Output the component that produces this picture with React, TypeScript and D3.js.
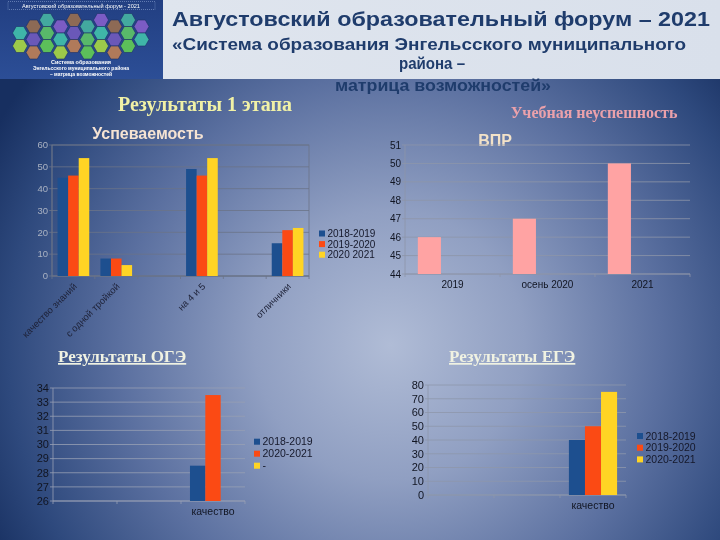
import React from 'react';
import * as d3 from 'd3';

// ---------- DATA ----------
const usCategories = ['качество знаний', 'с одной тройкой', '', 'на 4 и 5', '', 'отличники'];
const usSeries = ['2018-2019', '2019-2020', '2020 2021'];
const us2018 = [45, 8, null, 49, null, 15];
const us2019 = [46, 8, null, 46, null, 21];
const us2020 = [54, 5, null, 54, null, 22];
const usTicks = [0, 10, 20, 30, 40, 50, 60];

const vprCategories = ['2019', 'осень 2020', '2021'];
const vprSeries = ['ВПР', '', ''];
const vprValues = [46, 47, 50];
const vprEmpty = [null, null, null];
const vprTicks = [44, 45, 46, 47, 48, 49, 50, 51];

const ogeCategories = ['', '', 'качество'];
const ogeSeries = ['2018-2019', '2020-2021', '-'];
const oge2018 = [null, null, 28.5];
const oge2020 = [null, null, 33.5];
const ogeDash = [null, null, null];
const ogeTicks = [26, 27, 28, 29, 30, 31, 32, 33, 34];

const egeCategories = ['', '', 'качество'];
const egeSeries = ['2018-2019', '2019-2020', '2020-2021'];
const ege2018 = [null, null, 40];
const ege2019 = [null, null, 50];
const ege2020 = [null, null, 75];
const egeTicks = [0, 10, 20, 30, 40, 50, 60, 70, 80];

const hexColors = ['#7b5cc4', '#5cbf5a', '#3fb5a8', '#8d6a55', '#9cc94a', '#6a58b8', '#43a99f', '#b07a5a', '#58b86a'];

const BLUE = '#1d4f8f';
const RED = '#fb4a14';
const YELLOW = '#ffd424';
const PINK = '#ffa3a3';

const SANS = '"Liberation Sans", Arial, sans-serif';
const SERIF = '"Liberation Serif", "Times New Roman", serif';

type ChartProps = {
  categories: string[];
  series: string[];
  values: (number | null)[][];
  colors: string[];
  domain: [number, number];
  ticks: number[];
  x0: number; x1: number; y0: number; y1: number;
  groupFrac: number;
  gridColor: string;
  tickColor: string;
  tickSize: number;
  labelColor: string;
  labelSize: number;
  rotate?: boolean;
  frame?: boolean;
  legend?: { x: number; y: number; dy: number; size: number; font: number };
};

function BarChart(p: ChartProps) {
  const x = d3.scaleBand<number>().domain(p.categories.map((_, i) => i)).range([p.x0, p.x1]).padding(0);
  const y = d3.scaleLinear().domain(p.domain).range([p.y1, p.y0]);
  const bw = x.bandwidth();
  const gw = bw * p.groupFrac;
  const sub = d3.scaleBand<number>().domain(p.series.map((_, i) => i)).range([(bw - gw) / 2, (bw + gw) / 2]).padding(0);
  const boundaries = d3.range(p.categories.length + 1).map(i => p.x0 + i * bw);
  return (
    <g>
      {p.ticks.map(t => (
        <line key={'g' + t} x1={p.x0} x2={p.x1} y1={y(t)} y2={y(t)} stroke={p.gridColor} strokeWidth={0.8} />
      ))}
      {p.frame && (
        <rect x={p.x0} y={p.y0} width={p.x1 - p.x0} height={p.y1 - p.y0} fill="none" stroke={p.gridColor} strokeWidth={0.8} />
      )}
      <line x1={p.x0} x2={p.x0} y1={p.y0} y2={p.y1} stroke={p.gridColor} strokeWidth={0.8} />
      <line x1={p.x0} x2={p.x1} y1={p.y1} y2={p.y1} stroke={p.gridColor} strokeWidth={0.8} />
      {boundaries.map((b, i) => (
        <line key={'b' + i} x1={b} x2={b} y1={p.y1} y2={p.y1 + 3} stroke={p.gridColor} strokeWidth={0.8} />
      ))}
      {p.ticks.map(t => (
        <g key={'t' + t}>
          <line x1={p.x0 - 3} x2={p.x0} y1={y(t)} y2={y(t)} stroke={p.gridColor} strokeWidth={0.8} />
          <text x={p.x0 - 4} y={y(t)} dy="0.35em" textAnchor="end" fontFamily={SANS} fontSize={p.tickSize} fill={p.tickColor}>
            {t}
          </text>
        </g>
      ))}
      {p.values.map((vals, si) =>
        vals.map((v, ci) =>
          v == null ? null : (
            <rect
              key={si + '-' + ci}
              x={(x(ci) as number) + (sub(si) as number)}
              y={y(v)}
              width={sub.bandwidth()}
              height={p.y1 - y(v)}
              fill={p.colors[si]}
            />
          )
        )
      )}
      {p.categories.map((c, i) => {
        const cx = (x(i) as number) + bw / 2;
        if (!c) return null;
        return p.rotate ? (
          <text key={'c' + i} transform={`translate(${cx + 4},${p.y1 + 11}) rotate(-45)`} textAnchor="end" fontFamily={SANS} fontSize={p.labelSize} fill={p.labelColor}>
            {c}
          </text>
        ) : (
          <text key={'c' + i} x={cx} y={p.y1 + 14} textAnchor="middle" fontFamily={SANS} fontSize={p.labelSize} fill={p.labelColor}>
            {c}
          </text>
        );
      })}
      {p.legend &&
        p.series.map((s, i) => (
          <g key={'l' + i}>
            <rect x={p.legend!.x} y={p.legend!.y + i * p.legend!.dy - p.legend!.size / 2} width={p.legend!.size} height={p.legend!.size} fill={p.colors[i]} />
            <text x={p.legend!.x + p.legend!.size + 2.5} y={p.legend!.y + i * p.legend!.dy} dy="0.35em" fontFamily={SANS} fontSize={p.legend!.font} fill="#15182a">
              {s}
            </text>
          </g>
        ))}
    </g>
  );
}

function HexLogo() {
  const r = 7.5;
  const hexPath = (cx: number, cy: number) =>
    d3.range(6).map(k => {
      const a = (Math.PI / 3) * k;
      return [cx + r * Math.cos(a), cy + r * Math.sin(a)];
    }).map((pt, k) => (k ? 'L' : 'M') + pt[0].toFixed(1) + ',' + pt[1].toFixed(1)).join('') + 'Z';
  const cells: { cx: number; cy: number; c: string }[] = [];
  for (let col = 0; col < 10; col++) {
    for (let row = 0; row < 3; row++) {
      const cx = 20 + col * 13.5;
      const cy = 20 + row * 13 + (col % 2 ? 6.5 : 0);
      if ((col === 0 && row === 0) || (col === 9 && row === 2)) continue;
      cells.push({ cx, cy, c: hexColors[(col * 3 + row * 2) % hexColors.length] });
    }
  }
  return (
    <g>
      <defs>
        <linearGradient id="logoBg" x1="0" y1="0" x2="0" y2="1">
          <stop offset="0" stopColor="#223f82" />
          <stop offset="1" stopColor="#2c4e96" />
        </linearGradient>
      </defs>
      <rect x={0} y={0} width={163} height={79} fill="url(#logoBg)" />
      <rect x={8} y={1.5} width={147} height={8} fill="none" stroke="#9fb7e0" strokeWidth={0.5} strokeDasharray="1,1" />
      <text x={81} y={7.8} textAnchor="middle" fontFamily={SANS} fontSize={5.6} fill="#ffffff">Августовский образовательный форум - 2021</text>
      {cells.map((h, i) => (
        <path key={i} d={hexPath(h.cx, h.cy)} fill={h.c} stroke="#1b2f66" strokeWidth={0.6} />
      ))}
      <text x={81} y={64} textAnchor="middle" fontFamily={SANS} fontSize={5.5} fontWeight="bold" fill="#ffffff">Система образования</text>
      <text x={81} y={70} textAnchor="middle" fontFamily={SANS} fontSize={5} fontWeight="bold" fill="#ffffff">Энгельсского муниципального района</text>
      <text x={81} y={76} textAnchor="middle" fontFamily={SANS} fontSize={5} fontWeight="bold" fill="#ffffff">– матрица возможностей</text>
    </g>
  );
}

export default function App() {
  return (
    <svg width={720} height={540} style={{ position: 'fixed', left: 0, top: 0, display: 'block' }} xmlns="http://www.w3.org/2000/svg">
      <defs>
        <radialGradient id="bg" gradientUnits="userSpaceOnUse" cx={390} cy={345} r={450}>
          <stop offset="0" stopColor="#b0bcd6" />
          <stop offset="0.3" stopColor="#909fc2" />
          <stop offset="0.6" stopColor="#5b70a0" />
          <stop offset="0.85" stopColor="#2e497d" />
          <stop offset="1" stopColor="#172f60" />
        </radialGradient>
        <linearGradient id="band" x1="0" y1="0" x2="1" y2="0">
          <stop offset="0" stopColor="#dfe5ee" />
          <stop offset="1" stopColor="#d9e0eb" />
        </linearGradient>
      </defs>
      <rect x={0} y={0} width={720} height={540} fill="url(#bg)" />
      <rect x={163} y={0} width={557} height={79} fill="url(#band)" />
      <HexLogo />

      {/* header */}
      <text x={441} y={26} textAnchor="middle" fontFamily={SANS} fontWeight="bold" fontSize={21} fill="#1f3c6c" textLength={538} lengthAdjust="spacingAndGlyphs">Августовский образовательный форум – 2021</text>
      <text x={429} y={50} textAnchor="middle" fontFamily={SANS} fontWeight="bold" fontSize={16} fill="#1f3c6c" textLength={514} lengthAdjust="spacingAndGlyphs">«Система образования Энгельсского муниципального</text>
      <text x={432} y={69} textAnchor="middle" fontFamily={SANS} fontWeight="bold" fontSize={16} fill="#1f3c6c" textLength={66} lengthAdjust="spacingAndGlyphs">района –</text>
      <text x={443} y={91} textAnchor="middle" fontFamily={SANS} fontWeight="bold" fontSize={16} fill="#1f3c6c" textLength={216} lengthAdjust="spacingAndGlyphs">матрица возможностей»</text>

      {/* section titles */}
      <text x={205} y={111} textAnchor="middle" fontFamily={SERIF} fontWeight="bold" fontSize={20} fill="#f1f1a6">Результаты 1 этапа</text>
      <text x={148} y={139} textAnchor="middle" fontFamily={SANS} fontWeight="bold" fontSize={16} fill="#f5e3d3">Успеваемость</text>
      <text x={594} y={118} textAnchor="middle" fontFamily={SERIF} fontWeight="bold" fontSize={16} fill="#eba1ab">Учебная неуспешность</text>
      <text x={495} y={146} textAnchor="middle" fontFamily={SANS} fontWeight="bold" fontSize={16} fill="#f3e2c8">ВПР</text>
      <text x={58} y={362} fontFamily={SERIF} fontWeight="bold" fontSize={17} fill="#f0f2e2" textDecoration="underline">Результаты ОГЭ</text>
      <text x={449} y={362} fontFamily={SERIF} fontWeight="bold" fontSize={17} fill="#f0f2e2" textDecoration="underline">Результаты ЕГЭ</text>

      <BarChart
        categories={usCategories}
        series={usSeries}
        values={[us2018, us2019, us2020]}
        colors={[BLUE, RED, YELLOW]}
        domain={[0, 60]}
        ticks={usTicks}
        x0={52} x1={309} y0={145} y1={276}
        groupFrac={0.74}
        gridColor="#6b7488"
        tickColor="#aab2c2"
        tickSize={9.5}
        labelColor="#1e2238"
        labelSize={9.5}
        rotate
        frame
        legend={{ x: 319, y: 233.5, dy: 10.6, size: 6, font: 10 }}
      />
      <BarChart
        categories={vprCategories}
        series={vprSeries}
        values={[vprValues, vprEmpty, vprEmpty]}
        colors={[PINK, PINK, PINK]}
        domain={[44, 51]}
        ticks={vprTicks}
        x0={405} x1={690} y0={145} y1={274}
        groupFrac={0.73}
        gridColor="#8e96a8"
        tickColor="#111522"
        tickSize={10}
        labelColor="#111522"
        labelSize={10}
      />
      <BarChart
        categories={ogeCategories}
        series={ogeSeries}
        values={[oge2018, oge2020, ogeDash]}
        colors={[BLUE, RED, YELLOW]}
        domain={[26, 34]}
        ticks={ogeTicks}
        x0={53} x1={245} y0={388} y1={501}
        groupFrac={0.72}
        gridColor="#97a0b4"
        tickColor="#111522"
        tickSize={11}
        labelColor="#111522"
        labelSize={10.5}
        legend={{ x: 254, y: 441.7, dy: 12, size: 6, font: 10.5 }}
      />
      <BarChart
        categories={egeCategories}
        series={egeSeries}
        values={[ege2018, ege2019, ege2020]}
        colors={[BLUE, RED, YELLOW]}
        domain={[0, 80]}
        ticks={egeTicks}
        x0={428} x1={626} y0={385} y1={495}
        groupFrac={0.73}
        gridColor="#8e97ab"
        tickColor="#111522"
        tickSize={11}
        labelColor="#111522"
        labelSize={10.5}
        legend={{ x: 637, y: 436, dy: 11.7, size: 6, font: 10.5 }}
      />
    </svg>
  );
}
